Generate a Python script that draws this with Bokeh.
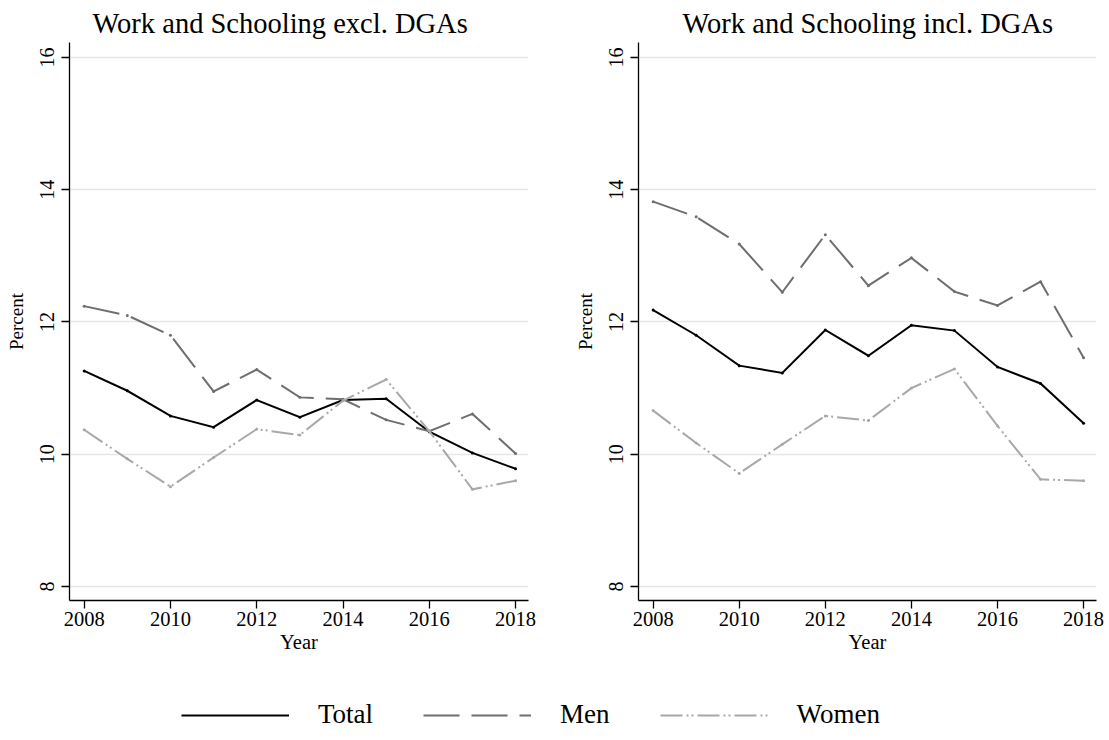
from bokeh.plotting import figure
from bokeh.layouts import column, row
from bokeh.models import Range1d, FixedTicker, Legend, LegendItem
from bokeh.embed import file_html
from bokeh.resources import INLINE

# Years of observation
years = [2008, 2009, 2010, 2011, 2012, 2013, 2014, 2015, 2016, 2017, 2018]

# Work and schooling, excluding DGAs (percent)
excl_total = [11.26, 10.96, 10.58, 10.41, 10.82, 10.56, 10.82, 10.84, 10.34, 10.02, 9.78]
excl_men = [12.24, 12.10, 11.80, 10.95, 11.28, 10.86, 10.83, 10.52, 10.35, 10.61, 10.01]
excl_women = [10.37, 9.93, 9.51, 9.95, 10.38, 10.29, 10.81, 11.13, 10.35, 9.47, 9.60]

# Work and schooling, including DGAs (percent)
incl_total = [12.18, 11.80, 11.34, 11.23, 11.88, 11.49, 11.95, 11.87, 11.32, 11.07, 10.47]
incl_men = [13.82, 13.59, 13.18, 12.45, 13.32, 12.55, 12.97, 12.46, 12.25, 12.61, 11.46]
incl_women = [10.66, 10.17, 9.71, 10.15, 10.58, 10.51, 11.00, 11.29, 10.43, 9.62, 9.60]

y_ticks = [8, 10, 12, 14, 16]
x_ticks = [2008, 2010, 2012, 2014, 2016, 2018]
series_names = ["Total", "Men", "Women"]

FONT = "Liberation Serif"
STYLES = {
    "Total": dict(color="#000000", dash="solid", width=2.0),
    "Men": dict(color="#6e6e6e", dash="36 12", width=2.0),
    "Women": dict(color="#a8a8a8", dash="22 4 2 3 2 4", width=2.0),
}


def make_panel(title, total, men, women, left, frame_w, right, title_offset):
    p = figure(
        output_backend="svg", toolbar_location=None,
        frame_width=frame_w, frame_height=558,
        min_border_left=left, min_border_right=right,
        min_border_top=42, min_border_bottom=62,
        x_range=Range1d(2007.66, 2018.3), y_range=Range1d(7.788, 16.227),
        title=title,
    )
    p.title.text_font = FONT
    p.title.text_font_size = "28.5px"
    p.title.text_font_style = "normal"
    p.title.text_color = "black"
    p.title.align = "left"
    p.title.offset = title_offset
    p.title.standoff = 8

    p.outline_line_color = None
    p.background_fill_color = "white"
    p.border_fill_color = "white"
    p.xgrid.grid_line_color = None
    p.ygrid.grid_line_color = "#e6e6e6"
    p.ygrid.grid_line_width = 1.5
    p.ygrid.ticker = FixedTicker(ticks=y_ticks)

    p.xaxis.ticker = FixedTicker(ticks=x_ticks)
    p.yaxis.ticker = FixedTicker(ticks=y_ticks)
    p.xaxis.axis_label = "Year"
    p.yaxis.axis_label = "Percent"
    for ax in (p.xaxis, p.yaxis):
        ax.axis_line_color = "black"
        ax.axis_line_width = 1.3
        ax.major_tick_line_color = "black"
        ax.major_tick_line_width = 1.3
        ax.major_tick_out = 8
        ax.major_tick_in = 0
        ax.minor_tick_line_color = None
        ax.major_label_text_font = FONT
        ax.axis_label_text_font = FONT
        ax.axis_label_text_font_style = "normal"
        ax.major_label_text_color = "black"
        ax.axis_label_text_color = "black"
    p.xaxis.major_label_text_font_size = "20.5px"
    p.xaxis.axis_label_text_font_size = "20.5px"
    p.xaxis.major_label_standoff = 3
    p.xaxis.axis_label_standoff = 2
    p.yaxis.major_label_text_font_size = "20px"
    p.yaxis.axis_label_text_font_size = "19px"
    p.yaxis.major_label_orientation = "vertical"
    p.yaxis.major_label_standoff = 7
    p.yaxis.axis_label_standoff = 11

    for name, vals in zip(series_names, (total, men, women)):
        st = STYLES[name]
        p.line(years, vals, line_color=st["color"], line_width=st["width"],
               line_dash=st["dash"], line_join="miter")
        p.scatter(years, vals, size=3, fill_color=st["color"], line_color=None)
    return p


p1 = make_panel("Work and Schooling excl. DGAs", excl_total, excl_men, excl_women,
                69, 459, 27, 23)
p2 = make_panel("Work and Schooling incl. DGAs", incl_total, incl_men, incl_women,
                83, 458, 13, 44)

# Shared legend underneath both panels; the key lines sit outside the visible range
leg = figure(output_backend="svg", toolbar_location=None, width=1109, height=78,
             x_range=Range1d(0, 1), y_range=Range1d(0, 1),
             min_border=0)
leg.axis.visible = False
leg.grid.visible = False
leg.outline_line_color = None
items = []
for name in series_names:
    st = STYLES[name]
    r = leg.line([-5, -4], [-5, -4], line_color=st["color"], line_width=st["width"],
                 line_dash=st["dash"])
    items.append(LegendItem(label=name, renderers=[r]))
legend = Legend(items=items, orientation="horizontal", location=(181, 10),
                glyph_width=108, glyph_height=20, label_standoff=29, spacing=50,
                padding=0, margin=0, border_line_color=None,
                background_fill_alpha=0,
                label_text_font=FONT, label_text_font_size="27px",
                label_text_color="black")
leg.add_layout(legend, "center")

layout = column(row(p1, p2), leg)
open("out.html", "w").write(file_html(layout, INLINE))
